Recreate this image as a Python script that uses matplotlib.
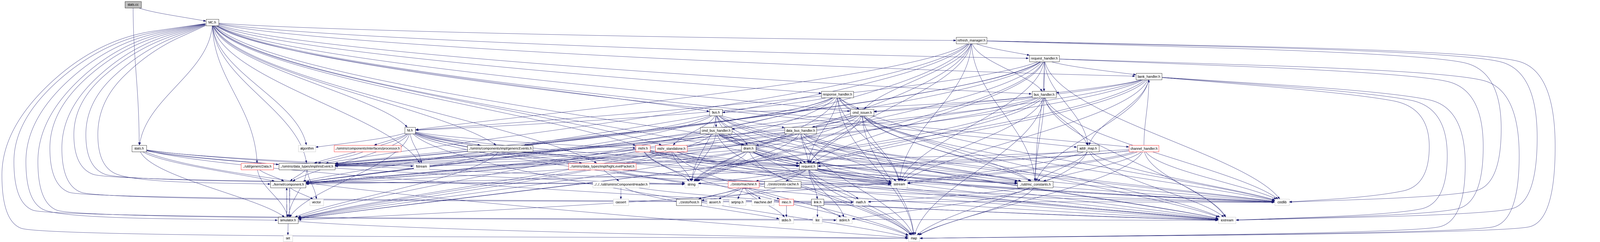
import numpy as np
import matplotlib
matplotlib.use("Agg")
import matplotlib.pyplot as plt
from matplotlib.patches import Rectangle, Polygon

"""
Include dependency graph of stats.cc (doxygen style), redrawn with matplotlib
"""

# ---- data -------------------------------------------------------------
node_keys = [
    "stats_cc", "MC", "refresh", "req_handler", "bank", "resp", "bus_handler",
    "bus", "cmd_issuer", "NI", "cmd_bus", "data_bus", "stats_h", "algorithm",
    "processor", "genericEvents", "mshr", "mshr_sa", "dram", "addr_map",
    "channel", "genericData", "irisEvent", "fstream", "hlp", "request",
    "component", "simIrisCH", "string", "machine", "zcache", "sstream",
    "mc_const", "vector", "cassert", "host", "assert", "setjmp", "machine_def",
    "misc", "link", "math", "cstdlib", "simulator", "stdio", "list", "stdint",
    "iostream", "set", "map",
]
node_labels = [
    "stats.cc", "MC.h", "refresh_manager.h", "request_handler.h",
    "bank_handler.h", "response_handler.h", "bus_handler.h", "bus.h",
    "cmd_issuer.h", "NI.h", "cmd_bus_handler.h", "data_bus_handler.h",
    "stats.h", "algorithm", "../simIris/components/interfaces/processor.h",
    "../simIris/components/impl/genericEvents.h", "mshr.h",
    "mshr_standalone.h", "dram.h", "addr_map.h", "channel_handler.h",
    "../util/genericData.h", "../simIris/data_types/impl/irisEvent.h",
    "fstream", "../simIris/data_types/impl/highLevelPacket.h", "request.h",
    "../kernel/component.h", "../../../util/simIrisComponentHeader.h",
    "string", "../zesto/machine.h", "../zesto/zesto-cache.h", "sstream",
    "../util/mc_constants.h", "vector", "cassert", "../zesto/host.h",
    "assert.h", "setjmp.h", "machine.def", "misc.h", "link.h", "math.h",
    "cstdlib", "simulator.h", "stdio.h", "list", "stdint.h", "iostream",
    "set", "map",
]
# root = the file itself, doc = documented header, trunc = truncated, sys = no docs
node_kinds = [
    "root", "doc", "doc", "doc", "doc", "doc", "doc", "doc", "doc", "doc",
    "doc", "doc", "doc", "sys", "trunc", "doc", "trunc", "trunc", "doc", "doc",
    "trunc", "trunc", "doc", "sys", "trunc", "doc", "doc", "sys", "sys",
    "trunc", "doc", "sys", "doc", "sys", "sys", "doc", "sys", "sys", "sys",
    "trunc", "doc", "sys", "sys", "doc", "sys", "sys", "sys", "sys", "sys",
    "sys",
]

includes = {
    "stats_cc": ["MC", "stats_h"],
    "MC": ["refresh", "req_handler", "bank", "resp", "bus_handler",
           "cmd_issuer", "bus", "NI", "mshr", "mshr_sa", "addr_map", "channel",
           "genericData", "irisEvent", "genericEvents", "request", "component",
           "simulator", "hlp", "stats_h", "string", "sstream", "mc_const",
           "math", "cstdlib", "iostream", "map", "fstream", "stdint",
           "algorithm"],
    "stats_h": ["simulator", "component", "irisEvent", "string", "map",
                "iostream", "sstream", "fstream"],
    "refresh": ["req_handler", "bus_handler", "cmd_issuer", "NI", "irisEvent",
                "component", "simulator", "request", "mc_const", "string",
                "sstream", "map", "iostream", "cstdlib"],
    "req_handler": ["bus_handler", "bank", "NI", "addr_map", "irisEvent",
                    "component", "simulator", "genericEvents", "request",
                    "mc_const", "string", "sstream", "map", "iostream",
                    "cstdlib"],
    "bank": ["addr_map", "cmd_issuer", "irisEvent", "component", "simulator",
             "request", "mc_const", "sstream", "map", "iostream", "cstdlib",
             "bus_handler"],
    "resp": ["cmd_issuer", "NI", "irisEvent", "component", "simulator",
             "genericEvents", "request", "mc_const", "sstream", "string",
             "map", "iostream", "cstdlib"],
    "bus_handler": ["cmd_issuer", "bus", "addr_map", "irisEvent", "component",
                    "simulator", "request", "mc_const", "sstream", "map",
                    "iostream", "cstdlib"],
    "cmd_issuer": ["cmd_bus", "data_bus", "irisEvent", "component",
                   "simulator", "request", "mc_const", "sstream", "string",
                   "map", "iostream", "cstdlib"],
    "bus": ["cmd_bus", "data_bus", "dram", "mshr_sa", "irisEvent", "component",
            "request", "mc_const", "string", "iostream", "cstdlib", "map"],
    "NI": ["algorithm", "processor", "genericEvents", "irisEvent", "fstream",
           "component", "simulator", "mshr", "request", "hlp", "string",
           "sstream", "iostream", "cstdlib", "map"],
    "cmd_bus": ["dram", "irisEvent", "component", "simulator", "request",
                "mc_const", "string", "sstream", "iostream", "cstdlib", "map"],
    "data_bus": ["dram", "irisEvent", "component", "request", "mc_const",
                 "string", "sstream", "iostream", "cstdlib", "map"],
    "processor": ["irisEvent"],
    "genericEvents": ["irisEvent", "component", "simulator", "request"],
    "mshr": ["irisEvent", "component", "request", "string", "sstream",
             "mc_const", "iostream", "cstdlib", "map"],
    "mshr_sa": ["request", "string", "sstream", "map", "iostream"],
    "dram": ["irisEvent", "component", "request", "string", "mc_const",
             "sstream", "iostream", "cstdlib", "map"],
    "addr_map": ["request", "mc_const", "sstream", "iostream", "cstdlib",
                 "map"],
    "channel": ["bank", "request", "irisEvent", "component", "simulator",
                "mc_const", "sstream", "iostream", "cstdlib", "map"],
    "genericData": ["component", "simulator"],
    "irisEvent": ["component", "vector", "simulator"],
    "hlp": ["simIrisCH", "string", "cstdlib", "iostream"],
    "request": ["machine", "zcache", "host", "link", "string", "sstream",
                "mc_const", "math", "stdint", "cstdlib", "iostream", "map"],
    "component": ["simulator", "vector"],
    "simulator": ["component", "set", "map"],
    "simIrisCH": ["cassert", "stdio", "iostream"],
    "machine": ["host", "assert", "setjmp", "machine_def", "misc", "stdio",
                "cstdlib"],
    "zcache": ["host"],
    "mc_const": ["math", "stdint", "map"],
    "link": ["list", "stdint", "math"],
    "misc": ["stdio"],
}

# ---- layout (pixels of the 6672x1008 canvas) ---------------------------
node_rank = [
    0, 1, 2, 3, 4, 5, 5, 6, 6, 7, 7, 7, 8, 8, 8, 8, 8, 8, 8, 8, 8, 9, 9, 9, 9,
    9, 10, 10, 10, 10, 10, 10, 10, 11, 11, 11, 11, 11, 11, 11, 11, 11, 11, 12,
    12, 12, 12, 12, 13, 13,
]
node_left = [
    521, 859, 3987, 4293, 4737, 3425, 4304, 2959, 3546, 1688, 2920, 3272, 550,
    1244, 1393, 1949, 2651, 2733, 3091, 4493, 4708, 1005, 1163, 1725, 2371,
    3333, 1128, 2472, 2856, 3036, 3188, 3717, 4243, 1292, 2557, 2820, 2948,
    3040, 3135, 3249, 3383, 3559, 5316, 1160, 3249, 3389, 3489, 5081, 1181,
    3788,
]
node_right = [
    589, 912, 4115, 4417, 4845, 3559, 4404, 3012, 3644, 1732, 3052, 3405, 611,
    1316, 1672, 2222, 2711, 2865, 3152, 4583, 4832, 1140, 1397, 1791, 2652,
    3409, 1275, 2707, 2911, 3165, 3340, 3784, 4391, 1349, 2621, 2925, 3015,
    3110, 3227, 3309, 3435, 3620, 5376, 1243, 3309, 3428, 3553, 5153, 1220,
    3834,
]
RANK_Y0, RANK_STEP, BOX_H = 19.0, 74.9, 27.0

# edges that graphviz sends round the outside of the drawing
left_loops = [("MC", "map"), ("MC", "iostream"), ("MC", "simulator"),
              ("MC", "stdint"), ("MC", "cstdlib"), ("MC", "math"),
              ("MC", "sstream"), ("MC", "string"), ("MC", "component")]
right_loops = [("refresh", "map"), ("refresh", "iostream"),
               ("req_handler", "map"), ("refresh", "cstdlib"),
               ("req_handler", "iostream"), ("bank", "map"),
               ("bank", "iostream"), ("bank", "cstdlib")]

EDGE_COLOR = "#191970"
BORDER = {"root": "black", "doc": "black", "trunc": "red", "sys": "#bfbfbf"}
FILL = {"root": "#bfbfbf", "doc": "white", "trunc": "white", "sys": "white"}
ARROW_LEN, ARROW_HW = 10.0, 3.6


def node_box(i):
    cy = RANK_Y0 + RANK_STEP * node_rank[i]
    return (node_left[i], node_right[i], cy - BOX_H / 2, cy + BOX_H / 2)


def center(box):
    return np.array([(box[0] + box[1]) / 2, (box[2] + box[3]) / 2])


def inside(pts, box):
    return ((pts[:, 0] >= box[0]) & (pts[:, 0] <= box[1])
            & (pts[:, 1] >= box[2]) & (pts[:, 1] <= box[3]))


def bezier(p0, p1, p2, p3, n=600):
    t = np.linspace(0, 1, n)[:, None]
    return ((1 - t) ** 3 * p0 + 3 * (1 - t) ** 2 * t * p1
            + 3 * (1 - t) * t ** 2 * p2 + t ** 3 * p3)


def chaikin(pts, iterations=5):
    pts = np.asarray(pts, dtype=float)
    for _ in range(iterations):
        q = 0.75 * pts[:-1] + 0.25 * pts[1:]
        r = 0.25 * pts[:-1] + 0.75 * pts[1:]
        mid = np.empty((2 * len(q), 2))
        mid[0::2] = q
        mid[1::2] = r
        pts = np.vstack([pts[0], mid, pts[-1]])
    # densify so the clipping against the boxes is accurate
    out = [pts[0]]
    for a, b in zip(pts[:-1], pts[1:]):
        n = max(2, int(np.hypot(*(b - a)) / 2))
        out.extend(a + (b - a) * np.linspace(0, 1, n)[1:, None])
    return np.array(out)


def draw_edge(ax, pts, sbox, tbox):
    i0 = int(np.argmax(~inside(pts, sbox)))
    outside_t = np.nonzero(~inside(pts, tbox))[0]
    if len(outside_t) == 0:
        return
    i1 = int(outside_t[-1])
    if i1 <= i0:
        return
    seg = pts[i0:i1 + 1]
    tip = seg[-1]
    dist = np.hypot(seg[:, 0] - tip[0], seg[:, 1] - tip[1])
    far = np.nonzero(dist >= ARROW_LEN)[0]
    back = seg[far[-1]] if len(far) else seg[0]
    u = tip - back
    u = u / max(np.hypot(*u), 1e-9)
    base = tip - u * ARROW_LEN
    perp = np.array([-u[1], u[0]])
    shaft = seg[dist >= ARROW_LEN]
    shaft = np.vstack([shaft, base]) if len(shaft) else np.array([seg[0], base])
    ax.plot(shaft[:, 0], shaft[:, 1], color=EDGE_COLOR, lw=0.75,
            solid_capstyle="butt", zorder=1)
    ax.add_patch(Polygon([tip, base + perp * ARROW_HW, base - perp * ARROW_HW],
                         closed=True, facecolor=EDGE_COLOR,
                         edgecolor=EDGE_COLOR, lw=0.5, zorder=2))


def plot_graph(output):
    fig = plt.figure(figsize=(66.72, 10.08), dpi=100)
    ax = fig.add_axes([0, 0, 1, 1])
    ax.set_xlim(0, 6672)
    ax.set_ylim(1008, 0)
    ax.axis("off")

    index = {k: i for i, k in enumerate(node_keys)}
    boxes = [node_box(i) for i in range(len(node_keys))]
    edges = [(s, t) for s, targets in includes.items() for t in targets]
    edge_set = set(edges)
    left_order = {e: n for n, e in enumerate(left_loops)}
    right_order = {e: n for n, e in enumerate(right_loops)}

    for src, dst in edges:
        sbox, tbox = boxes[index[src]], boxes[index[dst]]
        p0, p3 = center(sbox), center(tbox)
        if (src, dst) in left_order:
            n = left_order[(src, dst)]
            lx = 8 + 50 * n
            yb = p3[1] - 12
            way = [p0, (lx + 0.45 * (p0[0] - lx), p0[1] + 70 + 6 * n),
                   (lx, p0[1] + 0.5 * (yb - p0[1])), (lx, yb - 60),
                   (lx + 160, yb), p3]
            pts = chaikin(way)
        elif (src, dst) in right_order:
            n = right_order[(src, dst)]
            rx = 6485 - 75 * n
            way = [p0, (rx - 300, p0[1] + 45 + 4 * n), (rx, p0[1] + 130),
                   (rx, p3[1] - 70), (rx - 220, p3[1] - 25), p3]
            pts = chaikin(way)
        else:
            if (dst, src) in edge_set:
                shift = 6 if index[src] < index[dst] else -6
                p0 = p0 + (shift, 0)
                p3 = p3 + (shift, 0)
            dx, dy = p3 - p0
            # long sideways edges arrive almost flat, short ones steeply
            a = abs(dx) / (abs(dx) + 4 * abs(dy) + 1e-9)
            p1 = p0 + (0.1 * a * dx, 0.4 * dy)
            p2 = p3 - (0.4 * a * dx, ((1 - a) * 0.4 + 0.05) * dy)
            pts = bezier(p0, p1, p2, p3)
        draw_edge(ax, pts, sbox, tbox)

    for i, label in enumerate(node_labels):
        x0, x1, y0, y1 = boxes[i]
        kind = node_kinds[i]
        ax.add_patch(Rectangle((x0, y0), x1 - x0, y1 - y0,
                               facecolor=FILL[kind], edgecolor=BORDER[kind],
                               lw=0.8, zorder=3))
        ax.text((x0 + x1) / 2, (y0 + y1) / 2 + 0.5, label, ha="center",
                va="center", fontsize=10,
                family=["Liberation Sans", "DejaVu Sans"], zorder=4)

    fig.savefig(output, dpi=100, facecolor="white")


if __name__ == "__main__":
    plot_graph("out.png")
